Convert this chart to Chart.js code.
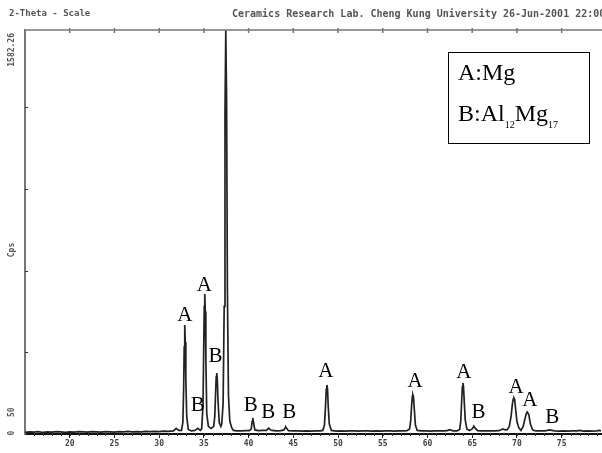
<!DOCTYPE html>
<html>
<head>
<meta charset="utf-8">
<script src="https://cdn.jsdelivr.net/npm/chart.js@4/dist/chart.umd.min.js"></script>
<style>
  html, body { margin: 0; padding: 0; background: #fff; }
  #wrap { width: 602px; height: 453px; }
</style>
</head>
<body>
<div id="wrap"><canvas id="xrd" width="602" height="453"></canvas></div>
<script>
// scan: 2-theta (deg) and intensity (counts)
const twoTheta = [
  15, 15.5, 16, 16.5, 17, 17.5, 18, 18.5, 19, 19.5, 20, 20.5, 21, 21.5, 22, 22.5, 23, 23.5,
  24, 24.5, 25, 25.5, 26, 26.5, 27, 27.5, 28, 28.5, 29, 29.5, 30, 30.5, 31, 31.6, 31.9, 32.2,
  32.5, 32.65, 32.74, 32.8, 32.86, 32.92, 32.98, 33.08, 33.25, 33.6, 34.0, 34.32, 34.6,
  34.75, 34.9, 34.98, 35.04, 35.10, 35.16, 35.22, 35.32, 35.5, 35.8, 36.1,
  36.22, 36.32, 36.38, 36.44, 36.5, 36.58, 36.72, 36.9,
  37.0, 37.15, 37.27, 37.36, 37.45, 37.54, 37.63, 37.75, 37.9, 38.12, 38.3, 38.7, 39.2, 39.7, 40.1,
  40.3, 40.4, 40.47, 40.55, 40.7, 41.1, 41.6, 42.0, 42.15, 42.26, 42.38, 42.6, 43.1, 43.6,
  43.95, 44.1, 44.16, 44.25, 44.45, 45.0, 45.5, 46.0, 46.5, 47.0, 47.5, 48.0, 48.3,
  48.48, 48.6, 48.68, 48.75, 48.82, 48.9, 49.02, 49.25, 49.8, 50.3, 50.8, 51.3, 51.8, 52.3,
  52.8, 53.3, 53.8, 54.3, 54.8, 55.3, 55.8, 56.3, 56.8, 57.3, 57.7, 58.0,
  58.12, 58.23, 58.31, 58.37, 58.43, 58.52, 58.65, 58.85, 59.3, 59.8, 60.3, 60.8, 61.3, 61.8,
  62.2, 62.4, 62.5, 62.6, 62.9, 63.3, 63.6,
  63.72, 63.83, 63.9, 63.96, 64.02, 64.1, 64.22, 64.4, 64.7, 65.0, 65.19, 65.35, 65.6,
  66.0, 66.5, 67.0, 67.5, 68.0, 68.3, 68.43, 68.6, 68.9, 69.15,
  69.35, 69.5, 69.6, 69.66, 69.74, 69.86, 70.0, 70.2, 70.45, 70.7, 70.9, 71.05, 71.15, 71.23,
  71.33, 71.5, 71.75, 72.1, 72.6, 73.1, 73.4, 73.6, 73.69, 73.9, 74.2, 74.7, 75.2, 75.7,
  76.2, 76.7, 77.05, 77.4, 77.9, 78.4, 78.9, 79.2, 79.4
];
const counts = [
  6, 8, 7, 9, 6, 8, 7, 9, 8, 6, 8, 7, 9, 8, 7, 9, 8, 7,
  9, 8, 7, 9, 8, 10, 8, 9, 8, 10, 9, 10, 9, 11, 10, 12, 22, 14,
  14, 45, 180, 340, 427, 360, 220, 70, 18, 12, 14, 22, 14,
  20, 110, 330, 500, 548, 480, 300, 80, 30, 22, 30,
  70, 170, 225, 239, 215, 130, 45, 30,
  40, 120, 500, 1250, 1582, 1300, 560, 150, 50, 24, 14, 12, 12, 13, 13,
  20, 50, 63, 45, 16, 13, 14, 14, 20, 23, 18, 14, 12, 13,
  16, 25, 27, 22, 13, 12, 12, 11, 12, 11, 12, 12, 14,
  35, 110, 175, 192, 178, 110, 40, 14, 11, 12, 11, 12, 12, 11,
  12, 12, 11, 12, 11, 12, 12, 11, 12, 12, 13, 20,
  50, 115, 148, 153, 146, 100, 35, 14, 12, 12, 11, 12, 12, 12,
  13, 16, 17, 15, 12, 12, 18,
  50, 135, 185, 200, 188, 135, 55, 20, 14, 20, 31, 22, 13,
  12, 12, 12, 12, 13, 18, 20, 17, 16, 30,
  70, 120, 138, 141, 136, 95, 50, 25, 14, 30, 60, 80, 86, 86,
  76, 40, 16, 12, 12, 12, 14, 16, 16, 14, 12, 11, 12, 11,
  12, 12, 14, 11, 12, 11, 12, 14, 12
];
const xTickLabels = [20, 25, 30, 35, 40, 45, 50, 55, 60, 65, 70, 75];
const yInnerTicks = [320, 640, 960, 1280];
const yMax = 1582;

// phase marks above the peaks
const peakPhase = ['A', 'A', 'B', 'B', 'B', 'B', 'B', 'A', 'A', 'A', 'B', 'A', 'A', 'B'];
const peakAngle = [32.86, 35.05, 36.3, 34.32, 40.25, 42.2, 44.55, 48.64, 58.6, 64.05, 65.7, 69.9, 71.45, 73.95];
const peakLevel = [466, 583, 302, 110, 113, 86, 86, 243, 204, 239, 86, 184, 133, 63];

const headerLeft = '2-Theta - Scale';
const headerRight = 'Ceramics Research Lab. Cheng Kung University 26-Jun-2001 22:00';

const decor = {
  id: 'decor',
  afterDraw(chart) {
    const { ctx, chartArea: a, scales: { x, y } } = chart;
    ctx.save();

    // header line
    ctx.fillStyle = '#555';
    ctx.textBaseline = 'middle';
    ctx.font = 'bold 9px "DejaVu Sans Mono"';
    ctx.fillText(headerLeft, 9, 14);
    ctx.font = 'bold 10px "DejaVu Sans Mono"';
    ctx.fillText(headerRight, 232, 14);

    // top border + ticks
    ctx.strokeStyle = '#777';
    ctx.lineWidth = 1.5;
    ctx.beginPath();
    ctx.moveTo(a.left, a.top);
    ctx.lineTo(a.right + 2, a.top);
    xTickLabels.forEach(v => {
      const px = x.getPixelForValue(v);
      ctx.moveTo(px, a.top - 2);
      ctx.lineTo(px, a.top + 3);
    });
    ctx.stroke();

    // minor ticks on the bottom axis
    ctx.strokeStyle = '#333';
    ctx.lineWidth = 1;
    ctx.beginPath();
    for (let v = 16; v < 80; v++) {
      const px = Math.round(x.getPixelForValue(v)) + 0.5;
      ctx.moveTo(px, a.bottom - 1);
      ctx.lineTo(px, a.bottom + 2);
    }
    // inner ticks on the left axis
    yInnerTicks.forEach(v => {
      const py = Math.round(y.getPixelForValue(v)) + 0.5;
      ctx.moveTo(a.left, py);
      ctx.lineTo(a.left + 3, py);
    });
    ctx.stroke();

    // rotated y labels
    ctx.fillStyle = '#555';
    ctx.font = 'bold 8px "DejaVu Sans Mono"';
    const rot = (txt, py, align) => {
      ctx.save();
      ctx.translate(12, py);
      ctx.rotate(-Math.PI / 2);
      ctx.textAlign = align;
      ctx.textBaseline = 'middle';
      ctx.fillText(txt, 0, 0);
      ctx.restore();
    };
    rot('1582.26', y.getPixelForValue(yMax) + 3, 'right');
    rot('Cps', 250, 'center');
    rot('50', y.getPixelForValue(85), 'center');
    rot('0', y.getPixelForValue(0) - 1, 'center');

    // phase letters
    ctx.fillStyle = '#000';
    ctx.font = '21px "Liberation Serif"';
    ctx.textAlign = 'center';
    ctx.textBaseline = 'middle';
    peakPhase.forEach((p, i) => {
      ctx.fillText(p, x.getPixelForValue(peakAngle[i]), y.getPixelForValue(peakLevel[i]));
    });

    // key box
    ctx.strokeStyle = '#000';
    ctx.lineWidth = 1;
    ctx.strokeRect(448.5, 52.5, 141, 91);
    ctx.textAlign = 'left';
    ctx.textBaseline = 'alphabetic';
    ctx.font = '24px "Liberation Serif"';
    ctx.fillText('A:Mg', 458, 80);
    let cx = 458;
    const part = (txt, size, dy) => {
      ctx.font = size + 'px "Liberation Serif"';
      ctx.fillText(txt, cx, 121 + dy);
      cx += ctx.measureText(txt).width;
    };
    part('B:Al', 24, 0);
    part('12', 10, 7);
    part('Mg', 24, 0);
    part('17', 10, 7);

    ctx.restore();
  }
};

const points = twoTheta.map((t, i) => ({ x: t, y: counts[i] }));

new Chart(document.getElementById('xrd'), {
  type: 'line',
  data: {
    datasets: [{
      data: points,
      borderColor: '#222',
      borderWidth: 1.7,
      pointRadius: 0,
      tension: 0,
      fill: false
    }]
  },
  options: {
    responsive: false,
    animation: false,
    devicePixelRatio: 1,
    layout: { padding: { top: 30, right: 1, left: 0, bottom: 0 } },
    plugins: { legend: { display: false }, tooltip: { enabled: false } },
    scales: {
      x: {
        type: 'linear',
        min: 15,
        max: 79.4,
        afterFit: s => { s.height = 19; },
        afterBuildTicks: s => { s.ticks = xTickLabels.map(v => ({ value: v })); },
        ticks: {
          autoSkip: false,
          maxRotation: 0,
          padding: 1,
          color: '#444',
          font: { family: 'DejaVu Sans Mono', size: 8, weight: 'bold' }
        },
        grid: { drawOnChartArea: false, tickLength: 4, color: '#222', lineWidth: 1 },
        border: { color: '#111', width: 2 }
      },
      y: {
        min: 0,
        max: yMax,
        afterFit: s => { s.width = 25; },
        ticks: { display: false },
        grid: { display: false },
        border: { color: '#777', width: 2 }
      }
    }
  },
  plugins: [decor]
});
</script>
</body>
</html>
